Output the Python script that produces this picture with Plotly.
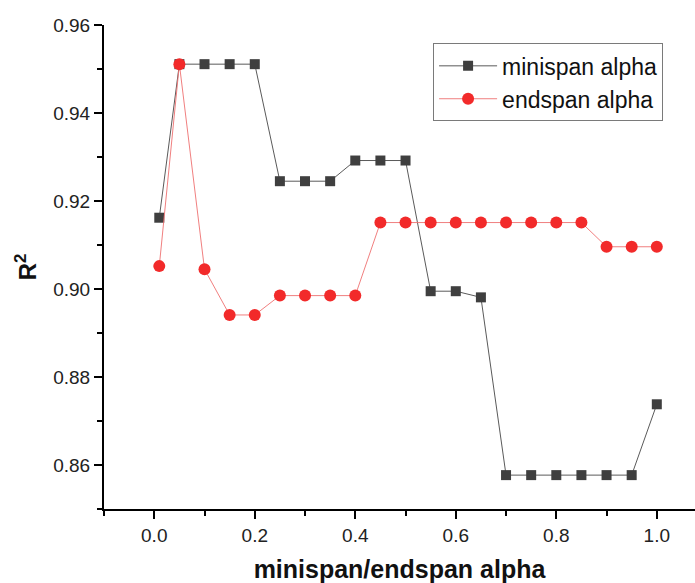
import plotly.graph_objects as go

alpha = [0.01, 0.05, 0.10, 0.15, 0.20, 0.25, 0.30, 0.35, 0.40, 0.45, 0.50,
         0.55, 0.60, 0.65, 0.70, 0.75, 0.80, 0.85, 0.90, 0.95, 1.00]
minispan_r2 = [0.9162, 0.9511, 0.9511, 0.9511, 0.9511, 0.9245, 0.9245, 0.9245,
               0.9292, 0.9292, 0.9292, 0.8995, 0.8995, 0.8981, 0.8577, 0.8577,
               0.8577, 0.8577, 0.8577, 0.8577, 0.8738]
endspan_r2 = [0.9052, 0.9511, 0.9045, 0.8941, 0.8941, 0.8985, 0.8985, 0.8985,
              0.8985, 0.9151, 0.9151, 0.9151, 0.9151, 0.9151, 0.9151, 0.9151,
              0.9151, 0.9151, 0.9096, 0.9096, 0.9096]

x_ticks = [0.0, 0.2, 0.4, 0.6, 0.8, 1.0]
x_ticklabels = ["0.0", "0.2", "0.4", "0.6", "0.8", "1.0"]
y_ticks = [0.86, 0.88, 0.90, 0.92, 0.94, 0.96]
y_ticklabels = ["0.86", "0.88", "0.90", "0.92", "0.94", "0.96"]

FONT = "Liberation Sans, Arial, Helvetica, sans-serif"

fig = go.Figure()
fig.add_trace(go.Scatter(
    x=alpha, y=minispan_r2, mode="lines+markers", name="minispan alpha",
    line=dict(color="#5a5a5a", width=1),
    marker=dict(symbol="square", size=10, color="#3f3f3f"),
))
fig.add_trace(go.Scatter(
    x=alpha, y=endspan_r2, mode="lines+markers", name="endspan alpha",
    line=dict(color="#ee7070", width=0.9),
    marker=dict(symbol="circle", size=12, color="#f22a2a"),
))

axis_common = dict(
    showline=True, linecolor="black", linewidth=2,
    ticks="outside", ticklen=8, tickwidth=1.5, tickcolor="black",
    showgrid=False, zeroline=False,
    tickfont=dict(family=FONT, size=19, color="#222222"),
)

fig.update_layout(
    width=695, height=583,
    margin=dict(l=104, r=0, t=25, b=74),
    paper_bgcolor="white", plot_bgcolor="white",
    font=dict(family=FONT, color="#111111"),
    showlegend=True,
    legend=dict(
        x=0.946, y=0.962, xanchor="right", yanchor="top",
        bordercolor="#7a7a7a", borderwidth=1, bgcolor="white",
        font=dict(family=FONT, size=23, color="#111111"),
        itemwidth=58,
        tracegroupgap=0,
    ),
    xaxis=dict(
        range=[-0.1, 1.076],
        tickmode="array", tickvals=x_ticks, ticktext=x_ticklabels,
        minor=dict(tickmode="array", tickvals=[-0.1, 0.1, 0.3, 0.5, 0.7, 0.9],
                   ticks="outside", ticklen=5, tickwidth=1.5, tickcolor="black"),
        title=dict(text="<b>minispan/endspan alpha</b>",
                   font=dict(family=FONT, size=25, color="#111111"),
                   standoff=16),
        **axis_common,
    ),
    yaxis=dict(
        range=[0.85, 0.96],
        tickmode="array", tickvals=y_ticks, ticktext=y_ticklabels,
        minor=dict(tickmode="array", tickvals=[0.85, 0.87, 0.89, 0.91, 0.93, 0.95],
                   ticks="outside", ticklen=5, tickwidth=1.5, tickcolor="black"),
        title=dict(text="<b>R<sup>2</sup></b>",
                   font=dict(family=FONT, size=24, color="#111111"),
                   standoff=10),
        **axis_common,
    ),
)

fig.write_html("out.html")
